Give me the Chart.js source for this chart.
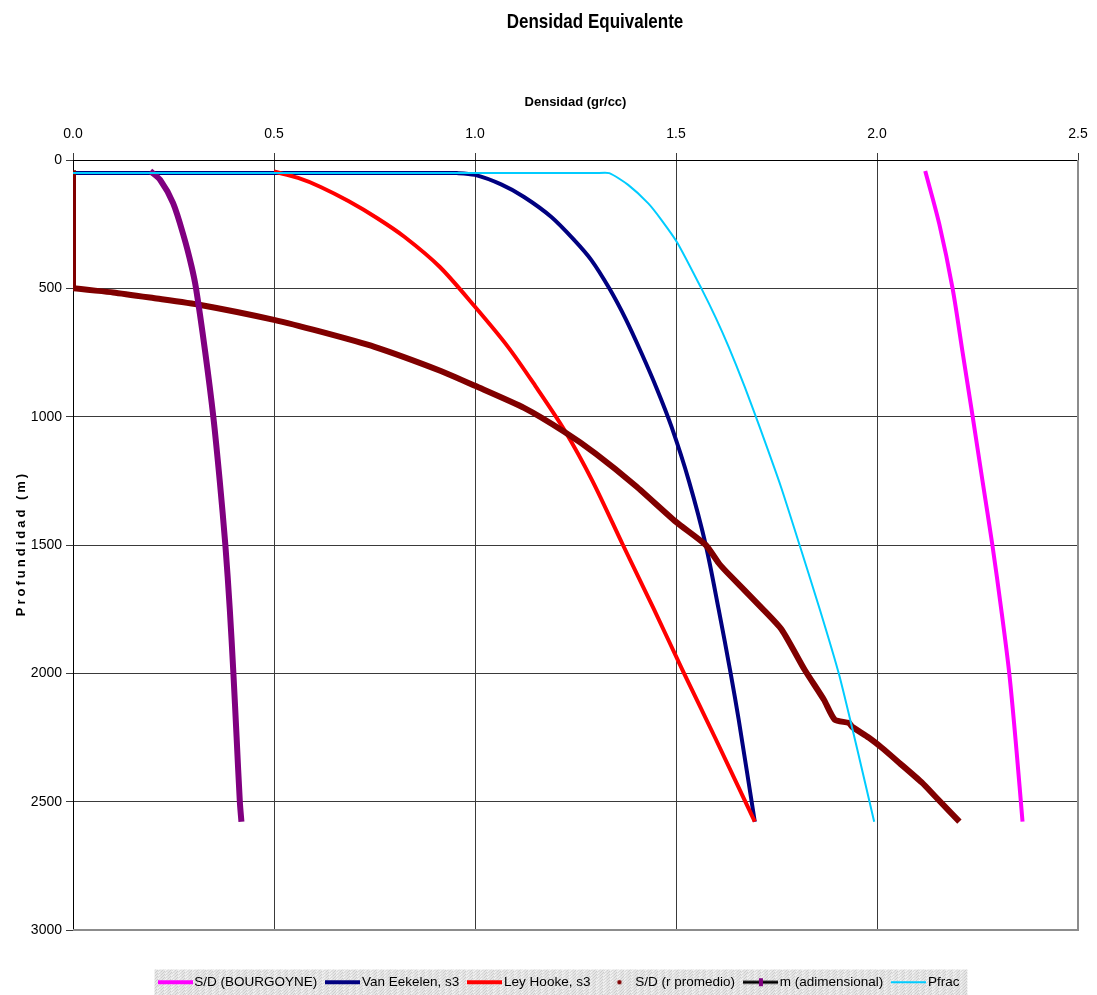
<!DOCTYPE html>
<html>
<head>
<meta charset="utf-8">
<title>Densidad Equivalente</title>
<script src="https://cdn.jsdelivr.net/npm/chart.js@4.4.1/dist/chart.umd.min.js"></script>
<style>
  html, body { margin: 0; padding: 0; background: #fff; }
  canvas { display: block; }
</style>
</head>
<body>
<canvas id="chart" width="1097" height="995"></canvas>
<script>
const FONT = "'Liberation Sans', Arial, sans-serif";

// depth (m) and equivalent density (gr/cc)
const bourgoyneDepth = [43, 250, 500, 750, 1000, 1246, 1500, 1750, 2000, 2300, 2578];
const bourgoyneDens  = [2.12, 2.155, 2.188, 2.213, 2.238, 2.262, 2.287, 2.309, 2.329, 2.347, 2.362];

const eekelenDepth = [51, 51, 51, 58, 95, 144, 222, 312, 389, 500, 620, 752, 890, 1040, 1250, 1500, 1750, 2000, 2181, 2578];
const eekelenDens  = [0, 0.9, 0.955, 1.0, 1.065, 1.122, 1.19, 1.247, 1.289, 1.334, 1.375, 1.414, 1.452, 1.489, 1.532, 1.574, 1.606, 1.636, 1.656, 1.696];

const hookeDepth = [45, 70, 105, 160, 225, 300, 416, 572, 728, 880, 1051, 1250, 1500, 1750, 2000, 2250, 2578];
const hookeDens  = [0.50, 0.56, 0.616, 0.685, 0.755, 0.825, 0.912, 1.0, 1.082, 1.15, 1.222, 1.292, 1.368, 1.445, 1.52, 1.597, 1.696];

const promedioDepth = [40, 495, 500, 516, 538, 565, 623, 669, 728, 822, 880, 966, 1059, 1144, 1270, 1410, 1500, 1570, 1605, 1745, 1830, 1986, 2103, 2181, 2193, 2208, 2251, 2290, 2348, 2426, 2480, 2578];
const promedioDens  = [0, 0, 0, 0.1, 0.2, 0.317, 0.5, 0.616, 0.75, 0.915, 1.0, 1.122, 1.222, 1.3, 1.4, 1.5, 1.574, 1.606, 1.626, 1.713, 1.763, 1.82, 1.868, 1.895, 1.93, 1.938, 1.98, 2.012, 2.055, 2.112, 2.145, 2.205];

const mDepth = [43, 78, 168, 300, 415, 500, 750, 1000, 1250, 1500, 1750, 2000, 2250, 2500, 2578];
const mValue = [0.192, 0.217, 0.249, 0.276, 0.295, 0.306, 0.329, 0.349, 0.365, 0.379, 0.39, 0.399, 0.407, 0.415, 0.419];

const pfracDepth = [51, 51, 51, 97, 169, 234, 324, 503, 615, 728, 884, 1040, 1273, 1503, 1752, 2001, 2290, 2578];
const pfracDens  = [0, 1.3, 1.334, 1.381, 1.431, 1.464, 1.504, 1.564, 1.599, 1.631, 1.671, 1.708, 1.761, 1.808, 1.858, 1.905, 1.95, 1.993];

const xTickValues = [0, 0.5, 1.0, 1.5, 2.0, 2.5];
const yTickValues = [0, 500, 1000, 1500, 2000, 2500, 3000];

function pts(xs, ys) {
  return xs.map((x, i) => ({ x: x, y: ys[i] }));
}

// little canvases used as legend symbols
function symbol(draw) {
  const c = document.createElement("canvas");
  c.width = 35;
  c.height = 10;
  draw(c.getContext("2d"));
  return c;
}
function lineSymbol(color, w) {
  return symbol((g) => {
    g.strokeStyle = color;
    g.lineWidth = w;
    g.beginPath();
    g.moveTo(0, 5);
    g.lineTo(35, 5);
    g.stroke();
  });
}
const dotSymbol = symbol((g) => {
  g.fillStyle = "#800000";
  g.beginPath();
  g.arc(21, 5, 2.2, 0, Math.PI * 2);
  g.fill();
});
const markerSymbol = symbol((g) => {
  g.strokeStyle = "#000";
  g.lineWidth = 3;
  g.beginPath();
  g.moveTo(0, 5);
  g.lineTo(35, 5);
  g.stroke();
  g.fillStyle = "#800080";
  g.fillRect(16, 1, 4, 8);
});

// granite-ish fill for the legend box
function granite() {
  const c = document.createElement("canvas");
  c.width = c.height = 48;
  const g = c.getContext("2d");
  g.fillStyle = "#e5e5e5";
  g.fillRect(0, 0, 48, 48);
  for (let i = 0; i < 48 * 48; i++) {
    const v = (Math.imul(i + 7, 0x9e3779b1) >>> 24);
    if (v < 40) g.fillStyle = "#cdcdcd";
    else if (v < 80) g.fillStyle = "#d9d9d9";
    else if (v > 225) g.fillStyle = "#f4f4f4";
    else continue;
    g.fillRect(i % 48, Math.floor(i / 48), 1, 1);
  }
  return c;
}

const decorations = {
  id: "decorations",
  afterLayout(chart) {
    // let the y tick labels use the space left of the axis box
    chart.scales.y.left = 0;
  },
  beforeDraw(chart) {
    const ctx = chart.ctx;
    const boxes = chart.legend.legendHitBoxes;
    if (boxes && boxes.length) {
      const first = boxes[0];
      const last = boxes[boxes.length - 1];
      const left = first.left - 8;
      ctx.save();
      ctx.fillStyle = ctx.createPattern(granite(), "repeat");
      ctx.fillRect(left, first.top - 6, last.left + last.width + 8 - left, 40);
      ctx.restore();
    }
  },
  beforeDatasetsDraw(chart) {
    const { ctx, chartArea: a } = chart;
    ctx.save();
    ctx.strokeStyle = "#8c8c8c";
    ctx.lineWidth = 2;
    ctx.beginPath();
    ctx.moveTo(a.right, a.top);
    ctx.lineTo(a.right, a.bottom);
    ctx.lineTo(a.left, a.bottom);
    ctx.stroke();
    ctx.restore();
  },
  afterDraw(chart) {
    const ctx = chart.ctx;
    ctx.save();
    ctx.fillStyle = "#000";
    ctx.font = "bold 17px " + FONT;
    ctx.textAlign = "center";
    ctx.textBaseline = "alphabetic";
    ctx.translate(595, 27.5);
    ctx.scale(1, 1.15);
    ctx.fillText("Densidad Equivalente", 0, 0);
    ctx.restore();

    ctx.save();
    ctx.fillStyle = "#000";
    ctx.translate(21, (chart.chartArea.top + chart.chartArea.bottom) / 2);
    ctx.rotate(-Math.PI / 2);
    ctx.font = "bold 13px " + FONT;
    ctx.letterSpacing = "3px";
    ctx.textAlign = "center";
    ctx.textBaseline = "middle";
    ctx.fillText("Profundidad (m)", 1.5, 0);
    ctx.restore();
  },
};

const line = (label, data, color, width, order, tension, legendImg) => ({
  label,
  data,
  showLine: true,
  borderColor: color,
  backgroundColor: color,
  borderWidth: width,
  pointRadius: 0,
  tension,
  borderJoinStyle: "round",
  order,
  legendImg,
});

new Chart(document.getElementById("chart"), {
  type: "scatter",
  data: {
    datasets: [
      line("S/D (BOURGOYNE)", pts(bourgoyneDens, bourgoyneDepth), "#ff00ff", 4, 6, 0.3, lineSymbol("#ff00ff", 4)),
      line("Van Eekelen, s3", pts(eekelenDens, eekelenDepth), "#000080", 4, 5, 0.3, lineSymbol("#000080", 4)),
      line("Ley Hooke, s3", pts(hookeDens, hookeDepth), "#ff0000", 4, 4, 0.3, lineSymbol("#ff0000", 4)),
      line("S/D (r promedio)", pts(promedioDens, promedioDepth), "#800000", 6, 3, 0.2, dotSymbol),
      line("m (adimensional)", pts(mValue, mDepth), "#800080", 6, 2, 0.3, markerSymbol),
      line("Pfrac", pts(pfracDens, pfracDepth), "#00ccff", 2, 1, 0.2, lineSymbol("#00ccff", 2)),
    ],
  },
  options: {
    responsive: false,
    animation: false,
    events: [],
    devicePixelRatio: 1,
    layout: { padding: { left: 44, right: 19, top: 0, bottom: -4 } },
    plugins: {
      title: { display: false },
      tooltip: { enabled: false },
      legend: {
        position: "bottom",
        labels: {
          usePointStyle: true,
          pointStyleWidth: 25,
          padding: 13,
          color: "#000",
          font: { family: FONT, size: 13.5 },
          sort: (a, b) => a.datasetIndex - b.datasetIndex,
          generateLabels(chart) {
            const items = Chart.defaults.plugins.legend.labels.generateLabels(chart);
            items.forEach((it) => {
              it.pointStyle = chart.data.datasets[it.datasetIndex].legendImg;
            });
            return items;
          },
        },
      },
    },
    scales: {
      x: {
        type: "linear",
        position: "top",
        min: 0,
        max: 2.5,
        afterBuildTicks: (s) => {
          s.ticks = xTickValues.map((v) => ({ value: v }));
        },
        afterFit: (s) => {
          s.height = 160;
          s.paddingLeft = 0;
          s.paddingRight = 0;
        },
        ticks: {
          color: "#000",
          padding: 10,
          font: { family: FONT, size: 14 },
          callback: (v) => Number(v).toFixed(1),
        },
        grid: { color: "#3a3a3a", lineWidth: 1, tickLength: 7 },
        border: { color: "#000", width: 1 },
        title: {
          display: true,
          text: "Densidad (gr/cc)",
          color: "#000",
          font: { family: FONT, size: 13, weight: "bold" },
          padding: { top: 95, bottom: 0 },
        },
      },
      x2: {
        type: "linear",
        position: "bottom",
        min: 0,
        max: 1,
        grid: { display: false },
        border: { display: false },
        ticks: { display: false },
        afterFit: (s) => {
          s.height = 32.5;
          s.paddingLeft = 0;
          s.paddingRight = 0;
        },
      },
      y: {
        type: "linear",
        reverse: true,
        min: 0,
        max: 3000,
        afterBuildTicks: (s) => {
          s.ticks = yTickValues.map((v) => ({ value: v }));
        },
        afterFit: (s) => {
          s.width = 29;
          s.paddingTop = 0;
          s.paddingBottom = 0;
        },
        ticks: {
          color: "#000",
          padding: 4,
          font: { family: FONT, size: 14 },
          callback: (v) => String(v),
        },
        grid: { color: "#3a3a3a", lineWidth: 1, tickLength: 7 },
        border: { color: "#000", width: 1 },
      },
    },
  },
  plugins: [decorations],
});
</script>
</body>
</html>
